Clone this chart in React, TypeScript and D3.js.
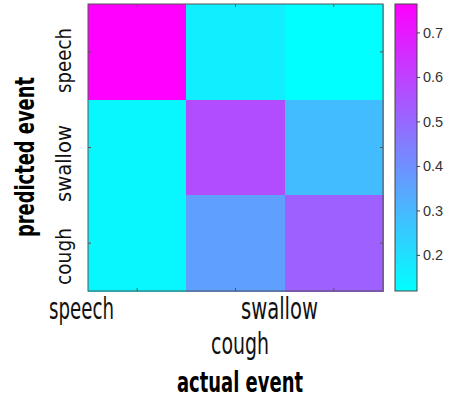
import React from "react";
import * as d3 from "d3";

const actualEvents = ["speech", "swallow", "cough"];
const predictedEvents = ["speech", "swallow", "cough"];
// rows: predicted event, columns: actual event
const speechRow = [0.765, 0.16, 0.12];
const swallowRow = [0.14, 0.57, 0.29];
const coughRow = [0.14, 0.36, 0.52];
const colorbarTicks = [0.2, 0.3, 0.4, 0.5, 0.6, 0.7];
const colorDomain = [0.12, 0.765];

const rows = [speechRow, swallowRow, coughRow];

const cool = (t: number) => {
  const c = Math.max(0, Math.min(1, t));
  return d3.rgb(255 * c, 255 * (1 - c), 255).formatHex();
};

export default function App() {
  const W = 452, H = 400;
  const left = 88, right = 383, top = 4, bottom = 291;
  const x = d3.scaleBand<string>().domain(actualEvents).range([left, right]);
  const y = d3.scaleBand<string>().domain(predictedEvents).range([top, bottom]);
  const norm = d3.scaleLinear().domain(colorDomain).range([0, 1]);
  const color = (v: number) => cool(norm(v));

  const cbX = 395, cbW = 22;
  const cbY = d3.scaleLinear().domain(colorDomain).range([bottom, top]);

  const cells: { r: string; c: string; v: number }[] = [];
  predictedEvents.forEach((r, i) =>
    actualEvents.forEach((c, j) => cells.push({ r, c, v: rows[i][j] }))
  );

  const narrow = "'Liberation Sans Narrow', 'DejaVu Sans Condensed', 'Roboto Condensed', Roboto, sans-serif";
  const tickLen = 3;
  const axisColor = "#555";

  const xLabelPos: Record<string, [number, number, number]> = {
    speech: [81.5, 319, 65],
    swallow: [279.5, 319, 77],
    cough: [240, 354, 58],
  };
  const yLabelPos: Record<string, [number, number]> = {
    speech: [60.5, 65],
    swallow: [163.5, 77],
    cough: [256.5, 57],
  };

  return (
    <svg width={W} height={H} style={{ position: "absolute", left: 0, top: 0 }}>
      <rect x={0} y={0} width={W} height={H} fill="#fff" />
      <defs>
        <linearGradient id="cbgrad" x1="0" y1="1" x2="0" y2="0">
          {d3.range(0, 1.0001, 0.1).map((t) => (
            <stop key={t} offset={t} stopColor={cool(t)} />
          ))}
        </linearGradient>
      </defs>
      {cells.map((d) => (
        <rect
          key={d.r + d.c}
          x={x(d.c)!}
          y={y(d.r)!}
          width={x.bandwidth() + 0.5}
          height={y.bandwidth() + 0.5}
          fill={color(d.v)}
          shapeRendering="crispEdges"
        />
      ))}
      <rect x={left} y={top} width={right - left} height={bottom - top} fill="none" stroke={axisColor} strokeWidth={1} />
      {actualEvents.map((c) => {
        const cx = x(c)! + x.bandwidth() / 2;
        return (
          <g key={"xt" + c} stroke={axisColor}>
            <line x1={cx} x2={cx} y1={bottom} y2={bottom - tickLen} />
            <line x1={cx} x2={cx} y1={top} y2={top + tickLen} />
          </g>
        );
      })}
      {predictedEvents.map((r) => {
        const cy = y(r)! + y.bandwidth() / 2;
        return (
          <g key={"yt" + r} stroke={axisColor}>
            <line x1={left} x2={left + tickLen} y1={cy} y2={cy} />
            <line x1={right} x2={right - tickLen} y1={cy} y2={cy} />
          </g>
        );
      })}
      {actualEvents.map((c) => {
        const [cx, by, len] = xLabelPos[c];
        return (
          <text
            key={"xl" + c}
            x={cx - len / 2}
            y={by}
            fontFamily={narrow}
            fontSize={30}
            fill="#111"
            textLength={len}
            lengthAdjust="spacingAndGlyphs"
          >
            {c}
          </text>
        );
      })}
      {predictedEvents.map((r) => {
        const [cy, len] = yLabelPos[r];
        return (
          <text
            key={"yl" + r}
            transform={`translate(71,${cy + len / 2}) rotate(-90)`}
            fontFamily={narrow}
            fontSize={21}
            fill="#111"
            textLength={len}
            lengthAdjust="spacingAndGlyphs"
          >
            {r}
          </text>
        );
      })}
      <text
        transform={`translate(34,${157 + 80}) rotate(-90)`}
        fontFamily={narrow}
        fontSize={26}
        fontWeight="bold"
        fill="#000"
        textLength={160}
        lengthAdjust="spacingAndGlyphs"
      >
        predicted event
      </text>
      <text
        x={177}
        y={392}
        fontFamily={narrow}
        fontSize={28}
        fontWeight="bold"
        fill="#000"
        textLength={126}
        lengthAdjust="spacingAndGlyphs"
      >
        actual event
      </text>
      <rect x={cbX} y={top} width={cbW} height={bottom - top} fill="url(#cbgrad)" stroke="#444" strokeWidth={1} />
      {colorbarTicks.map((t) => (
        <g key={"cb" + t}>
          <line x1={cbX + cbW} x2={cbX + cbW + tickLen} y1={cbY(t)} y2={cbY(t)} stroke="#444" />
          <text
            x={cbX + cbW + 6}
            y={cbY(t)}
            dy="0.35em"
            fontFamily="'Liberation Sans', Arial, sans-serif"
            fontSize={14.5}
            fill="#333"
          >
            {t.toFixed(1)}
          </text>
        </g>
      ))}
    </svg>
  );
}
